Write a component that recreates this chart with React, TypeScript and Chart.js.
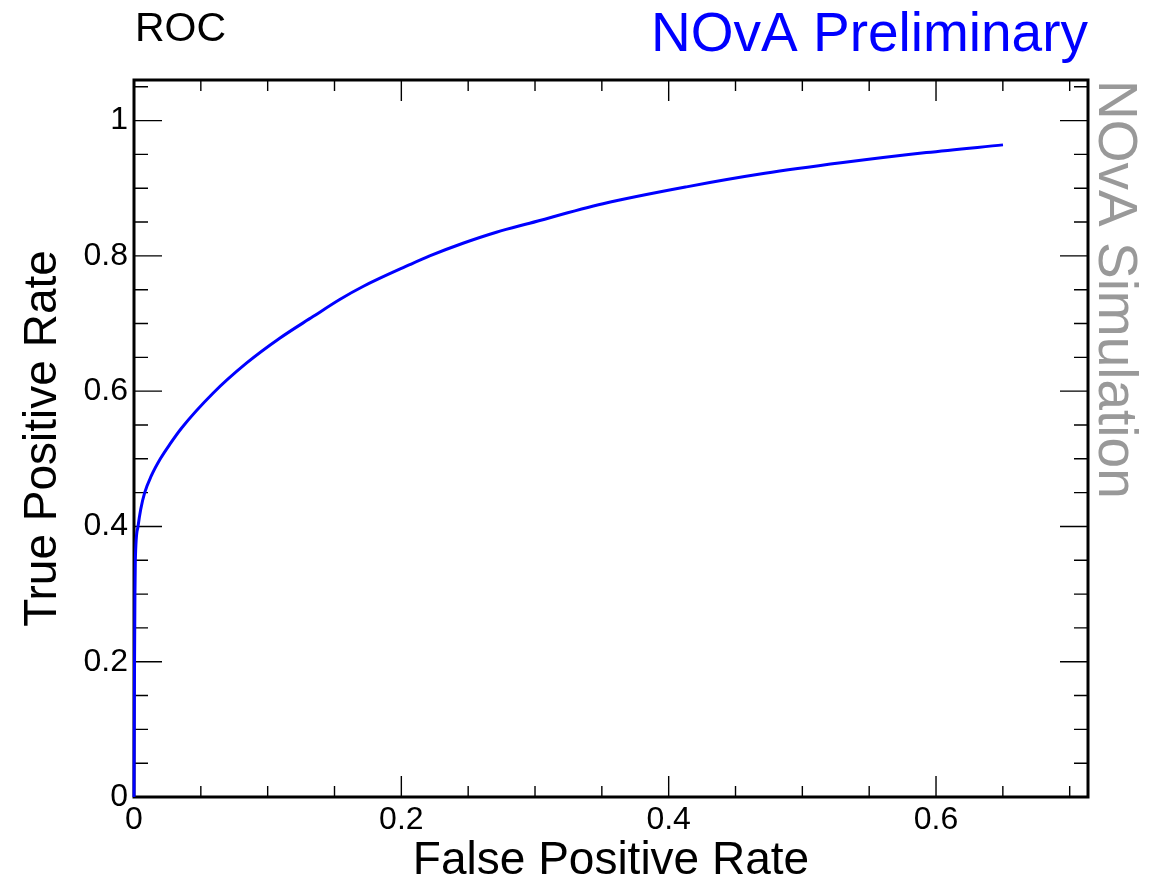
import React, { useEffect, useRef } from "react";
import { Chart, registerables } from "chart.js";

Chart.register(...registerables);

// ROC curve: false positive rate (x) vs true positive rate (y)
const fprValues = [
  0, 0.0002, 0.0004, 0.0007, 0.001, 0.003, 0.005, 0.008, 0.013, 0.0197, 0.027, 0.0355,
  0.0591, 0.0841, 0.109, 0.1339, 0.1539, 0.1713, 0.2063, 0.2212, 0.2461, 0.2711, 0.296,
  0.3509, 0.4133, 0.472, 0.5304, 0.5928, 0.6501,
];
const tprValues = [
  0, 0.1, 0.2, 0.3, 0.35, 0.4, 0.425, 0.45, 0.475, 0.5, 0.522, 0.5452,
  0.5969, 0.6413, 0.6782, 0.7102, 0.7355, 0.7547, 0.787, 0.8, 0.8187, 0.835, 0.8483,
  0.877, 0.902, 0.922, 0.9379, 0.9527, 0.9641,
];

const xTickValues = [0, 0.2, 0.4, 0.6];
const xTickLabels = ["0", "0.2", "0.4", "0.6"];
const yTickValues = [0, 0.2, 0.4, 0.6, 0.8, 1];
const yTickLabels = ["0", "0.2", "0.4", "0.6", "0.8", "1"];

const X_MAX = 0.7137;
const Y_MAX = 1.06;
const MINOR_STEP = 0.05;

const FONT = "'Liberation Sans', Arial, Helvetica, sans-serif";

const framePlugin = {
  id: "rootFrame",
  beforeDatasetsDraw(chart: any) {
    const { ctx, chartArea } = chart;
    const { left, right, top, bottom } = chartArea;
    const xs = chart.scales.x;
    const ys = chart.scales.y;
    ctx.save();
    ctx.strokeStyle = "#000";
    ctx.lineWidth = 1.4;
    ctx.beginPath();
    // x ticks (bottom & top), inward
    for (let i = 0; i * MINOR_STEP <= X_MAX + 1e-9; i++) {
      const v = i * MINOR_STEP;
      const major = i % 4 === 0;
      const len = major ? 21 : 11;
      const px = xs.getPixelForValue(v);
      ctx.moveTo(px, bottom);
      ctx.lineTo(px, bottom - len);
      ctx.moveTo(px, top);
      ctx.lineTo(px, top + len);
    }
    // y ticks (left & right), inward
    for (let i = 0; i * MINOR_STEP <= Y_MAX + 1e-9; i++) {
      const v = i * MINOR_STEP;
      const major = i % 4 === 0;
      const len = major ? 28 : 14;
      const py = ys.getPixelForValue(v);
      ctx.moveTo(left, py);
      ctx.lineTo(left + len, py);
      ctx.moveTo(right, py);
      ctx.lineTo(right - len, py);
    }
    ctx.stroke();
    ctx.lineWidth = 3;
    ctx.strokeRect(left, top, right - left, bottom - top);
    ctx.restore();
  },
  afterDraw(chart: any) {
    const { ctx, chartArea } = chart;
    ctx.save();
    ctx.fillStyle = "#000";
    ctx.font = `41px ${FONT}`;
    ctx.textAlign = "left";
    ctx.textBaseline = "alphabetic";
    ctx.fillText("ROC", 135, 41);

    ctx.fillStyle = "#0000ff";
    ctx.font = `55px ${FONT}`;
    ctx.textAlign = "right";
    ctx.fillText("NOvA Preliminary", chartArea.right, 51);

    ctx.fillStyle = "#999999";
    ctx.font = `55px ${FONT}`;
    ctx.textAlign = "left";
    ctx.translate(1099, chartArea.top);
    ctx.rotate(Math.PI / 2);
    ctx.fillText("NOvA Simulation", 0, 0);
    ctx.restore();
  },
};

export default function App() {
  const canvasRef = useRef<HTMLCanvasElement | null>(null);

  useEffect(() => {
    const canvas = canvasRef.current;
    if (!canvas) return;
    const points = fprValues.map((x, i) => ({ x, y: tprValues[i] }));
    const chart = new Chart(canvas, {
      type: "scatter",
      data: {
        datasets: [
          {
            label: "ROC",
            data: points,
            showLine: true,
            borderColor: "#0000ff",
            backgroundColor: "#0000ff",
            borderWidth: 3,
            pointRadius: 0,
            cubicInterpolationMode: "monotone",
            clip: 6,
          } as any,
        ],
      },
      options: {
        responsive: false,
        animation: false,
        layout: { padding: { left: 0, right: 73, top: 80, bottom: 0 } },
        plugins: { legend: { display: false }, tooltip: { enabled: false } },
        scales: {
          x: {
            type: "linear",
            min: 0,
            max: X_MAX,
            grid: { display: false, drawTicks: false },
            border: { display: false },
            afterFit: (scale: any) => {
              scale.height = 88;
            },
            afterBuildTicks: (scale: any) => {
              scale.ticks = xTickValues.map((value) => ({ value }));
            },
            ticks: {
              padding: 4,
              color: "#000",
              font: { family: FONT, size: 32, lineHeight: 1.2 },
              maxRotation: 0,
              callback: (value: any) => {
                const i = xTickValues.findIndex((v) => Math.abs(v - Number(value)) < 1e-9);
                return i >= 0 ? xTickLabels[i] : "";
              },
            },
            title: {
              display: true,
              text: "False Positive Rate",
              color: "#000",
              font: { family: FONT, size: 46, lineHeight: 1 },
              padding: { top: 0, bottom: 1 },
            },
          },
          y: {
            type: "linear",
            min: 0,
            max: Y_MAX,
            grid: { display: false, drawTicks: false },
            border: { display: false },
            afterFit: (scale: any) => {
              scale.width = 134;
            },
            afterBuildTicks: (scale: any) => {
              scale.ticks = yTickValues.map((value) => ({ value }));
            },
            ticks: {
              padding: 6,
              color: "#000",
              font: { family: FONT, size: 32, lineHeight: 1.2 },
              callback: (value: any) => {
                const i = yTickValues.findIndex((v) => Math.abs(v - Number(value)) < 1e-9);
                return i >= 0 ? yTickLabels[i] : "";
              },
            },
            title: {
              display: true,
              text: "True Positive Rate",
              color: "#000",
              font: { family: FONT, size: 46, lineHeight: 1 },
              padding: { top: 20, bottom: 0 },
            },
          },
        },
      },
      plugins: [framePlugin],
    });
    return () => chart.destroy();
  }, []);

  return (
    <div style={{ position: "absolute", left: 0, top: 0, width: 1161, height: 885, background: "#fff" }}>
      <canvas ref={canvasRef} width={1161} height={885} style={{ display: "block" }} />
    </div>
  );
}
